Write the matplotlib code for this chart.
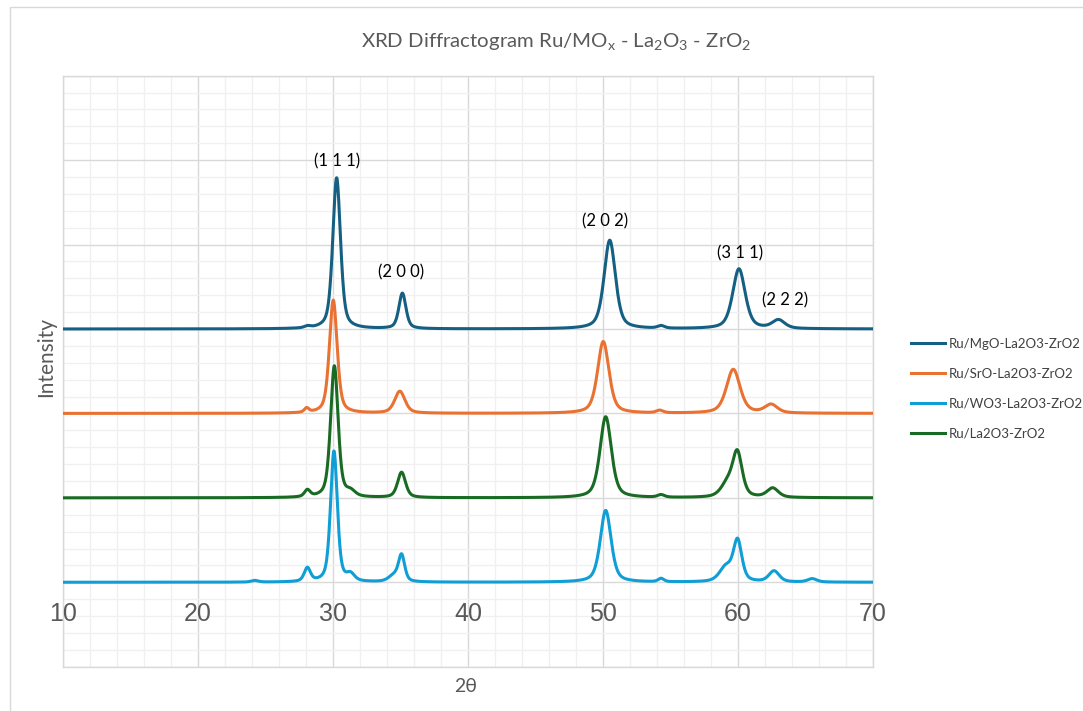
import numpy as np
import matplotlib
matplotlib.use("Agg")
import matplotlib.pyplot as plt
from matplotlib.ticker import MultipleLocator

# ---- data: reflections read per sample (2theta, height above baseline, FWHM) ----
two_theta = np.arange(10.0, 70.0001, 0.02)

series_names = ["Ru/MgO-La2O3-ZrO2", "Ru/SrO-La2O3-ZrO2",
                "Ru/WO3-La2O3-ZrO2", "Ru/La2O3-ZrO2"]
series_colors = ["#156082", "#E97132", "#0F9ED5", "#196B24"]
baselines = [4.0, 3.0, 1.0, 2.0]

mgo_pos = [28.1, 30.27, 35.14, 50.50, 54.3, 60.07, 63.0]
mgo_hgt = [0.02, 1.79, 0.42, 1.05, 0.03, 0.71, 0.10]
mgo_fwhm = [0.5, 0.68, 0.62, 1.0, 0.6, 1.1, 1.1]

sro_pos = [28.05, 30.02, 34.95, 50.02, 54.2, 59.65, 62.45]
sro_hgt = [0.05, 1.34, 0.26, 0.85, 0.03, 0.52, 0.10]
sro_fwhm = [0.4, 0.68, 0.9, 1.0, 0.6, 1.2, 1.1]

wo3_pos = [24.2, 28.1, 30.07, 31.3, 34.5, 35.08, 50.2, 54.3, 59.1, 59.97, 62.67, 65.5]
wo3_hgt = [0.02, 0.16, 1.55, 0.08, 0.07, 0.31, 0.85, 0.04, 0.17, 0.48, 0.13, 0.04]
wo3_fwhm = [0.6, 0.55, 0.6, 0.7, 0.9, 0.55, 0.95, 0.5, 1.1, 0.75, 0.9, 0.8]

la_pos = [28.1, 30.1, 31.3, 35.08, 50.2, 54.3, 59.2, 59.95, 62.57]
la_hgt = [0.08, 1.56, 0.06, 0.30, 0.96, 0.03, 0.15, 0.52, 0.11]
la_fwhm = [0.5, 0.66, 0.8, 0.7, 1.0, 0.6, 1.1, 0.85, 1.0]

peak_pos = [mgo_pos, sro_pos, wo3_pos, la_pos]
peak_hgt = [mgo_hgt, sro_hgt, wo3_hgt, la_hgt]
peak_fwhm = [mgo_fwhm, sro_fwhm, wo3_fwhm, la_fwhm]

hkl_labels = ["(1 1 1)", "(2 0 0)", "(2 0 2)", "(3 1 1)", "(2 2 2)"]
hkl_x = [30.30, 35.04, 50.15, 60.17, 63.47]
hkl_y = [5.98, 4.67, 5.27, 4.89, 4.34]

x_ticks = [10, 20, 30, 40, 50, 60, 70]

UI_FONT = "Lato"


def pseudo_voigt(x, pos, hgt, fwhm, eta=0.5):
    g = np.exp(-4 * np.log(2) * ((x - pos) / fwhm) ** 2)
    lor = 1.0 / (1.0 + 4 * ((x - pos) / fwhm) ** 2)
    return hgt * (eta * lor + (1 - eta) * g)


plt.rcParams["mathtext.fontset"] = "custom"
plt.rcParams["mathtext.rm"] = UI_FONT
plt.rcParams["mathtext.it"] = UI_FONT

fig = plt.figure(figsize=(10.83, 7.11), dpi=100)
ax = fig.add_axes([63 / 1083, (711 - 666.7) / 711, 810 / 1083, 591 / 711])

for i, name in enumerate(series_names):
    y = np.full_like(two_theta, baselines[i])
    for p, h, w in zip(peak_pos[i], peak_hgt[i], peak_fwhm[i]):
        y += pseudo_voigt(two_theta, p, h, w)
    ax.plot(two_theta, y, color=series_colors[i], lw=2.2, label=name,
            zorder=3 + i, solid_joinstyle="round")

ax.set_xlim(10, 70)
ax.set_ylim(0, 7)
ax.xaxis.set_major_locator(MultipleLocator(10))
ax.xaxis.set_minor_locator(MultipleLocator(2))
ax.yaxis.set_major_locator(MultipleLocator(1))
ax.yaxis.set_minor_locator(MultipleLocator(0.2))
ax.grid(which="major", color="#D9D9D9", lw=1.0, zorder=0)
ax.grid(which="minor", color="#F0F0F0", lw=1.0, zorder=0)
ax.set_axisbelow(True)
ax.tick_params(which="both", length=0, labelbottom=False, labelleft=False)
for s in ax.spines.values():
    s.set_color("#D9D9D9")
    s.set_linewidth(1.0)

for t in x_ticks:
    ax.text(t, 0.62, str(t), ha="center", va="center", fontsize=18,
            family="Liberation Sans", color="#595959", zorder=10)

for lab, xx, yy in zip(hkl_labels, hkl_x, hkl_y):
    ax.text(xx, yy, lab, ha="center", va="center", fontsize=12,
            family=UI_FONT, color="#000000", zorder=10)

fig.text(556 / 1083, 1 - 42 / 711,
         r"XRD Diffractogram Ru/MO$_\mathrm{x}$ - La$_2$O$_3$ - ZrO$_2$",
         ha="center", va="center", fontsize=14.7, family=UI_FONT,
         color="#595959")
fig.text(466 / 1083, 1 - 686 / 711, "2θ", ha="center", va="center",
         fontsize=14, family=UI_FONT, color="#595959")
fig.text(46 / 1083, 1 - 357 / 711, "Intensity", ha="center", va="center",
         rotation=90, fontsize=15, family=UI_FONT, color="#595959")

leg = fig.legend(loc="upper left", bbox_to_anchor=(899 / 1083, 1 - 326 / 711),
                 frameon=False, handlelength=2.6,
                 handletextpad=0.3, labelspacing=1.35,
                 prop={"family": UI_FONT, "size": 9.5})
for txt in leg.get_texts():
    txt.set_color("#404040")

# chart area outline
fig.patches.append(plt.Rectangle((10 / 1083, -0.01), 1.02, 1.0, fill=False,
                                 edgecolor="#D9D9D9", lw=1.0,
                                 transform=fig.transFigure, figure=fig))

fig.savefig("out.png", dpi=100)
